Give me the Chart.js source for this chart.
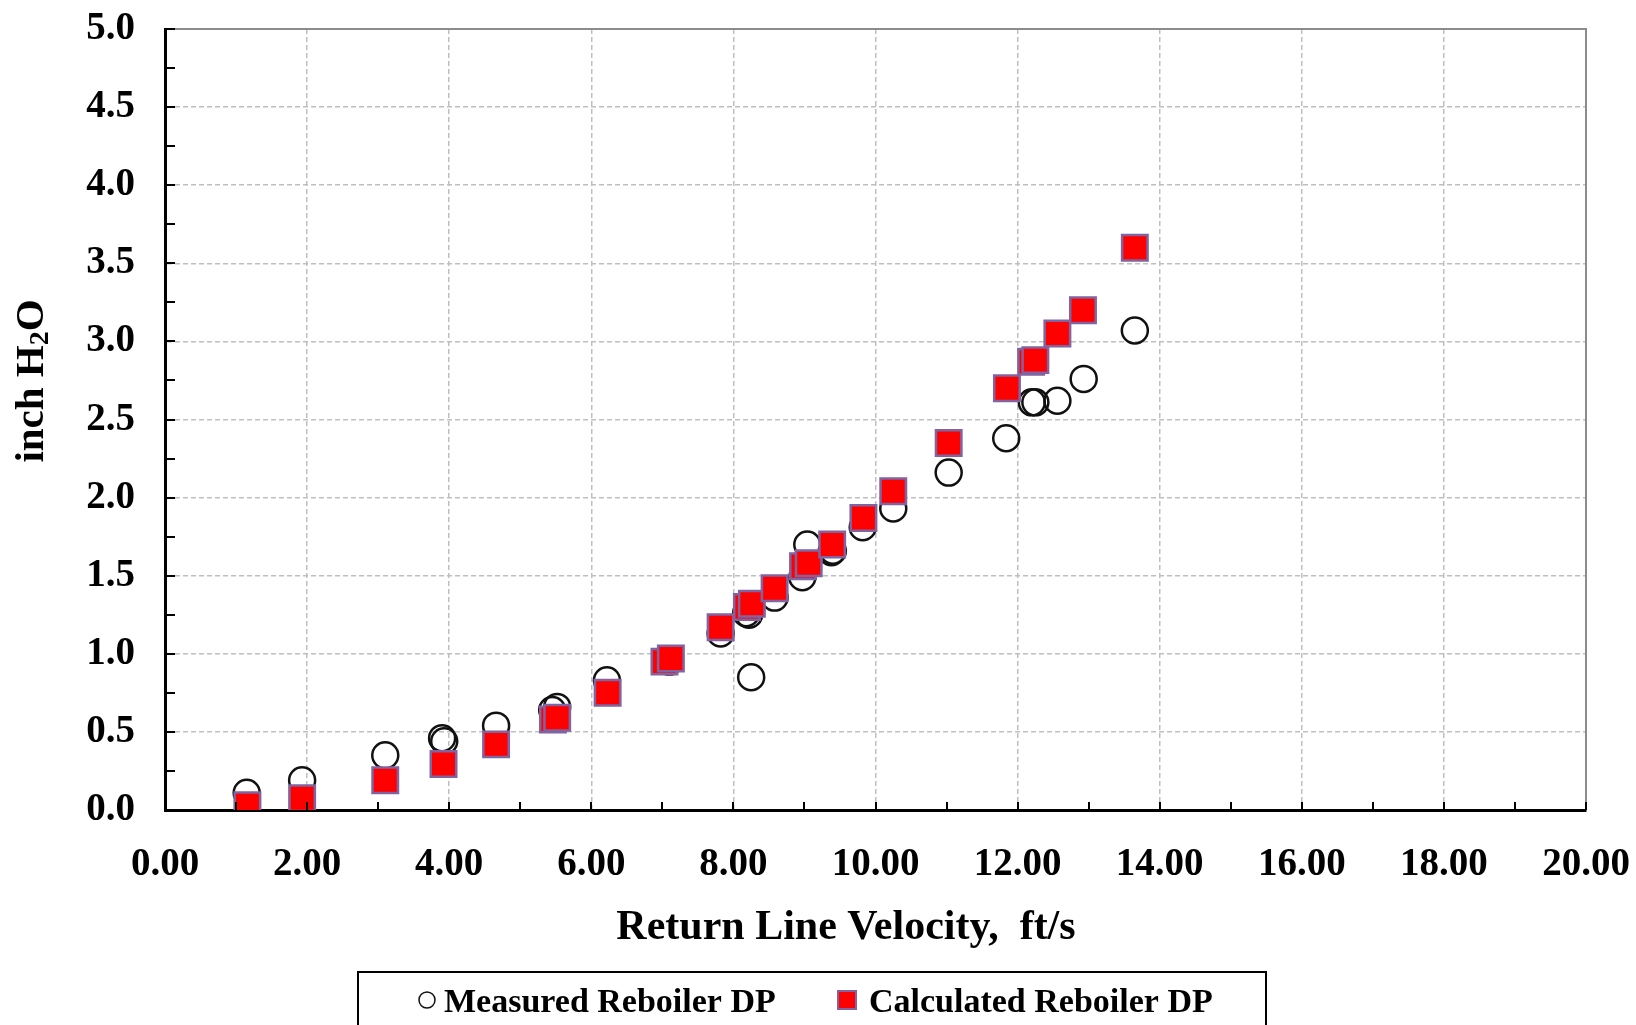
<!DOCTYPE html>
<html>
<head>
<meta charset="utf-8">
<script src="https://cdn.jsdelivr.net/npm/chart.js@4.4.1/dist/chart.umd.min.js"></script>
<style>
  html, body { margin: 0; padding: 0; background: #fff; overflow: hidden; }
</style>
</head>
<body>
<canvas id="dpChart" width="1636" height="1025"></canvas>
<script>
// Reboiler pressure drop (inch H2O) against return line velocity (ft/s)
const measuredVelocity = [1.15, 1.93, 3.10, 3.90, 3.93, 4.66, 5.45, 5.52, 6.22, 7.10,
  7.82, 8.18, 8.22, 8.25, 8.58, 8.97, 9.04, 9.38, 9.40, 9.82,
  10.25, 11.03, 11.84, 12.20, 12.25, 12.56, 12.93, 13.65];
const measuredDP = [0.11, 0.19, 0.35, 0.46, 0.44, 0.54, 0.64, 0.66, 0.83, 0.95,
  1.13, 1.26, 1.25, 0.85, 1.36, 1.49, 1.70, 1.65, 1.66, 1.81,
  1.93, 2.16, 2.38, 2.61, 2.61, 2.62, 2.76, 3.07];

const calcVelocity = [1.16, 1.93, 3.10, 3.92, 4.66, 5.46, 5.52, 6.23, 7.03, 7.12,
  7.82, 8.19, 8.26, 8.58, 8.98, 9.06, 9.39, 9.83, 10.25, 11.03,
  11.85, 12.19, 12.25, 12.56, 12.92, 13.65];
const calcDP = [0.03, 0.075, 0.19, 0.295, 0.42, 0.58, 0.59, 0.75, 0.95, 0.97,
  1.17, 1.30, 1.32, 1.42, 1.56, 1.58, 1.70, 1.87, 2.04, 2.35,
  2.70, 2.87, 2.88, 3.05, 3.20, 3.60];

const seriesLabels = ['Measured Reboiler DP', 'Calculated Reboiler DP'];
const xTitle = 'Return Line Velocity,  ft/s';

const xRange = [0, 20];
const yRange = [0, 5];
const xLabelStep = 2;    // labelled dashed grid lines
const xMinorStep = 1;    // short inside ticks
const yLabelStep = 0.5;
const yMinorStep = 0.25;

const serif = '"Liberation Serif", "Times New Roman", Times, serif';

function toPoints(xs, ys) {
  return xs.map((x, i) => ({ x: x, y: ys[i] }));
}

// gray top/right frame, inward tick marks, axis titles, boxed legend
const frameAndLegend = {
  id: 'frameAndLegend',
  afterDraw(chart) {
    const ctx = chart.ctx;
    const area = chart.chartArea;
    const xs = chart.scales.x;
    const ys = chart.scales.y;

    ctx.save();
    ctx.strokeStyle = '#8c8c8c';
    ctx.lineWidth = 2;
    ctx.beginPath();
    ctx.moveTo(area.left, area.top);
    ctx.lineTo(area.right, area.top);
    ctx.lineTo(area.right, area.bottom);
    ctx.stroke();

    ctx.strokeStyle = '#000';
    ctx.lineWidth = 2;
    ctx.beginPath();
    for (let v = xRange[0] + xMinorStep; v < xRange[1] + 0.001; v += xMinorStep) {
      const px = Math.round(xs.getPixelForValue(v));
      ctx.moveTo(px, area.bottom);
      ctx.lineTo(px, area.bottom - 8);
    }
    for (let v = yRange[0] + yMinorStep; v < yRange[1] + 0.001; v += yMinorStep) {
      const py = Math.round(ys.getPixelForValue(v));
      ctx.moveTo(area.left, py);
      ctx.lineTo(area.left + 10, py);
    }
    ctx.stroke();
    ctx.restore();

    // x axis title, sitting a little left of the plot centre
    ctx.save();
    ctx.fillStyle = '#000';
    ctx.font = 'bold 42px ' + serif;
    ctx.textAlign = 'center';
    ctx.textBaseline = 'middle';
    ctx.fillText(xTitle, 846, 928);
    ctx.restore();

    // y axis title: inch H2O
    ctx.save();
    ctx.translate(32, 381);
    ctx.rotate(-Math.PI / 2);
    ctx.fillStyle = '#000';
    ctx.textBaseline = 'middle';
    ctx.textAlign = 'left';
    const big = 'bold 41px ' + serif;
    const small = 'bold 28px ' + serif;
    ctx.font = big;
    const w1 = ctx.measureText('inch H').width;
    const w3 = ctx.measureText('O').width;
    ctx.font = small;
    const w2 = ctx.measureText('2').width;
    let tx = -(w1 + w2 + w3) / 2;
    ctx.font = big;
    ctx.fillText('inch H', tx, 0);
    tx += w1;
    ctx.font = small;
    ctx.fillText('2', tx, 9);
    tx += w2;
    ctx.font = big;
    ctx.fillText('O', tx, 0);
    ctx.restore();

    // legend box along the bottom edge
    const ds = chart.data.datasets;
    ctx.save();
    ctx.strokeStyle = '#000';
    ctx.lineWidth = 2;
    ctx.strokeRect(358, 972, 908, 70);
    ctx.font = 'bold 34px ' + serif;
    ctx.fillStyle = '#000';
    ctx.textBaseline = 'alphabetic';
    ctx.textAlign = 'left';

    ctx.beginPath();
    ctx.arc(427, 1000, 8, 0, Math.PI * 2);
    ctx.lineWidth = 1.5;
    ctx.strokeStyle = ds[0].borderColor;
    ctx.stroke();
    ctx.fillText(ds[0].label, 444, 1012);

    ctx.fillStyle = ds[1].backgroundColor;
    ctx.fillRect(838, 991, 18, 18);
    ctx.strokeStyle = ds[1].borderColor;
    ctx.lineWidth = 2;
    ctx.strokeRect(838, 991, 18, 18);
    ctx.fillStyle = '#000';
    ctx.fillText(ds[1].label, 869, 1012);
    ctx.restore();
  }
};

const tickFont = { family: serif, size: 39, weight: 'bold' };

new Chart(document.getElementById('dpChart').getContext('2d'), {
  type: 'scatter',
  data: {
    datasets: [
      {
        label: seriesLabels[0],
        data: toPoints(measuredVelocity, measuredDP),
        pointStyle: 'circle',
        pointRadius: 13,
        borderColor: '#111111',
        borderWidth: 2.5,
        backgroundColor: 'rgba(0,0,0,0)',
        order: 2
      },
      {
        label: seriesLabels[1],
        data: toPoints(calcVelocity, calcDP),
        pointStyle: 'rect',
        pointRadius: 18,
        borderColor: '#8064a2',
        borderWidth: 2.5,
        backgroundColor: '#ff0000',
        order: 1
      }
    ]
  },
  options: {
    responsive: false,
    animation: false,
    layout: { padding: { left: 0, right: 50, top: 29, bottom: 73 } },
    plugins: {
      legend: { display: false },
      tooltip: { enabled: false }
    },
    scales: {
      x: {
        type: 'linear',
        min: xRange[0],
        max: xRange[1],
        ticks: {
          stepSize: xLabelStep,
          padding: 32,
          color: '#000',
          font: tickFont,
          maxRotation: 0,
          autoSkip: false,
          callback: v => v.toFixed(2)
        },
        grid: { color: '#bfbfbf', lineWidth: 1.5, drawTicks: false },
        border: { display: true, color: '#000', width: 3, dash: [5, 3] },
        afterFit: s => {
          s.height = 142;
          s.paddingLeft = 0;
          s.paddingRight = 0;
        }
      },
      y: {
        type: 'linear',
        min: yRange[0],
        max: yRange[1],
        ticks: {
          stepSize: yLabelStep,
          padding: 30,
          color: '#000',
          font: tickFont,
          callback: v => v.toFixed(1)
        },
        grid: { color: '#bfbfbf', lineWidth: 1.5, drawTicks: false },
        border: { display: true, color: '#000', width: 3, dash: [5, 3] },
        afterFit: s => {
          s.width = 165;
          s.paddingTop = 0;
          s.paddingBottom = 0;
        }
      }
    }
  },
  plugins: [frameAndLegend]
});
</script>
</body>
</html>
